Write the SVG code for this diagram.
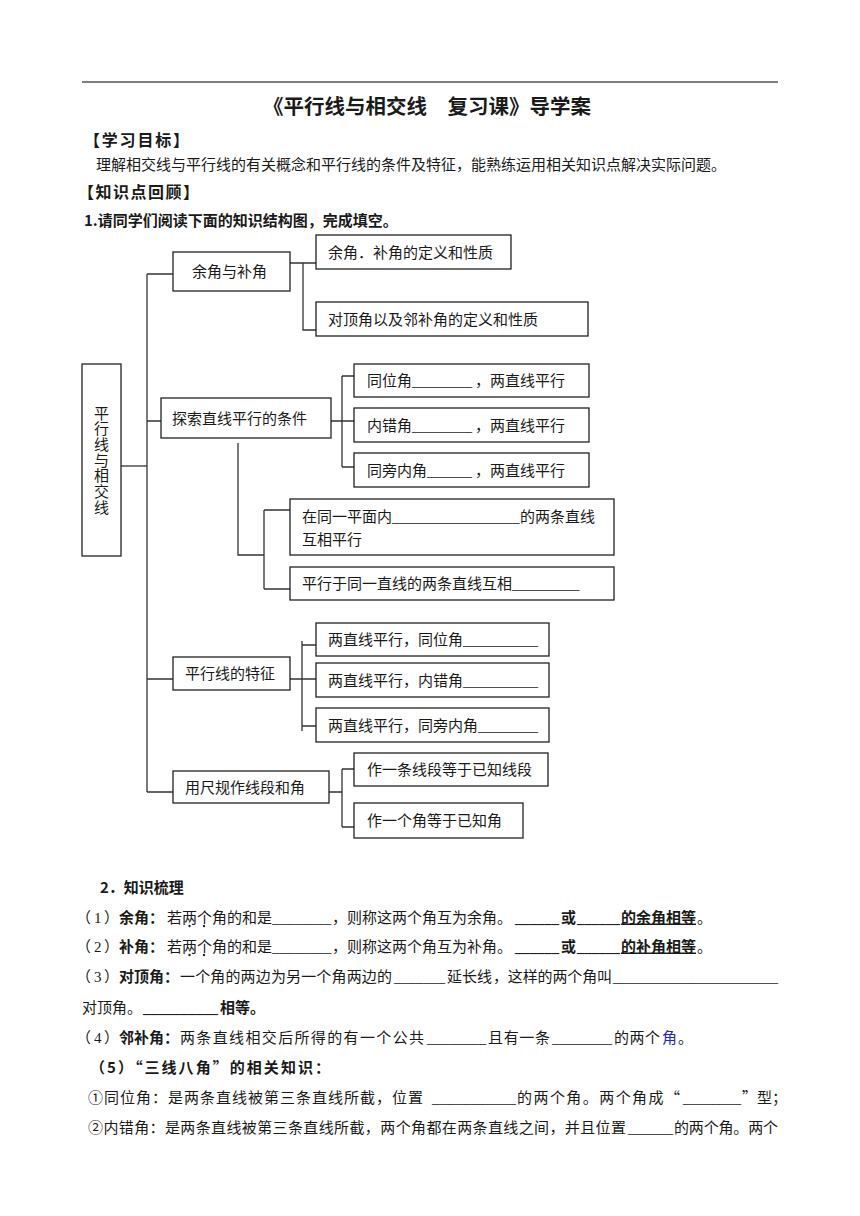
<svg xmlns="http://www.w3.org/2000/svg" width="860" height="1216" viewBox="0 0 860 1216">
<style>
text{font-family:"Noto Sans CJK SC","Liberation Serif",sans-serif;font-size:15px;fill:#1a1a1a}
.b{font-weight:bold}
.u{text-decoration:underline}
.ul{font-family:"Liberation Serif",serif}
.box{fill:#fff;stroke:#222;stroke-width:1.3}
.ln{fill:none;stroke:#333;stroke-width:1.3}
.blue{fill:#2424c8}
.vt{writing-mode:tb;glyph-orientation-vertical:0;letter-spacing:0.7px}
</style>
<rect width="860" height="1216" fill="#fff"/>
<line x1="82" y1="82" x2="778" y2="82" stroke="#000" stroke-width="1"/>
<text x="263" y="113.5" class="b" style="font-size:20.5px">《平行线与相交线　复习课》导学案</text>
<text x="84" y="145.7" class="b" style="font-size:16px" textLength="105" lengthAdjust="spacing">【学习目标】</text>
<text x="96" y="169.7" textLength="630" lengthAdjust="spacing">理解相交线与平行线的有关概念和平行线的条件及特征，能熟练运用相关知识点解决实际问题。</text>
<text x="78" y="197.7" class="b" style="font-size:16px" textLength="121" lengthAdjust="spacing">【知识点回顾】</text>
<text x="84" y="225.7" class="b">1.请同学们阅读下面的知识结构图，完成填空。</text>

<g id="connectors" class="ln">
<path d="M147 274V792"/>
<path d="M121 466H147"/>
<path d="M147 274H173M147 421H161M147 679H173M147 792H173"/>
<path d="M290 263H316M303 263V330H316"/>
<path d="M331 421H354M342 376V467M342 376H354M342 467H354"/>
<path d="M238 443V555H264M264 510V589M264 510H290M264 589H290"/>
<path d="M290 679H316M302 641V731M302 645H316M302 726H316"/>
<path d="M329 792H342M342 769V827M342 769H354M342 827H354"/>
</g>

<g id="root"><rect class="box" x="82" y="364" width="39" height="192"/>
<text class="vt" x="101.5" y="405.5">平行线与相交线</text></g>

<g id="n-yujiao"><rect class="box" x="173" y="252" width="117" height="39"/><text x="192" y="277">余角与补角</text></g>
<g id="n-yujiao-1"><rect class="box" x="316" y="235" width="195" height="34"/><text x="328" y="257.5">余角．补角的定义和性质</text></g>
<g id="n-yujiao-2"><rect class="box" x="316" y="302" width="272" height="34"/><text x="328" y="324.5">对顶角以及邻补角的定义和性质</text></g>

<g id="n-tiaojian"><rect class="box" x="161" y="398" width="170" height="40"/><text x="172" y="423.5">探索直线平行的条件</text></g>
<g id="n-tj-1"><rect class="box" x="354" y="364" width="235" height="33"/><text x="367" y="386">同位角<tspan class="ul">________</tspan><tspan x="475">，两直线平行</tspan></text></g>
<g id="n-tj-2"><rect class="box" x="354" y="408" width="235" height="34"/><text x="367" y="430.5">内错角<tspan class="ul">________</tspan><tspan x="475">，两直线平行</tspan></text></g>
<g id="n-tj-3"><rect class="box" x="354" y="453" width="235" height="34"/><text x="367" y="475.5">同旁内角<tspan class="ul">______</tspan><tspan x="475">，两直线平行</tspan></text></g>
<g id="n-tj-4"><rect class="box" x="290" y="499" width="324" height="56"/><text x="302" y="521.5">在同一平面内<tspan class="ul">_________________</tspan><tspan x="520">的两条直线</tspan></text><text x="302" y="544.5">互相平行</text></g>
<g id="n-tj-5"><rect class="box" x="290" y="567" width="324" height="33"/><text x="302" y="589">平行于同一直线的两条直线互相<tspan class="ul">_________</tspan></text></g>

<g id="n-tezheng"><rect class="box" x="173" y="657" width="117" height="33"/><text x="185" y="679">平行线的特征</text></g>
<g id="n-tz-1"><rect class="box" x="316" y="623" width="233" height="33"/><text x="328" y="645">两直线平行，同位角<tspan class="ul">__________</tspan></text></g>
<g id="n-tz-2"><rect class="box" x="316" y="663" width="233" height="34"/><text x="328" y="685.5">两直线平行，内错角<tspan class="ul">__________</tspan></text></g>
<g id="n-tz-3"><rect class="box" x="316" y="708" width="233" height="34"/><text x="328" y="730.5">两直线平行，同旁内角<tspan class="ul">________</tspan></text></g>

<g id="n-chigui"><rect class="box" x="173" y="771" width="156" height="32"/><text x="185" y="792.5">用尺规作线段和角</text></g>
<g id="n-cg-1"><rect class="box" x="354" y="753" width="194" height="33"/><text x="367" y="775">作一条线段等于已知线段</text></g>
<g id="n-cg-2"><rect class="box" x="354" y="803" width="169" height="35"/><text x="367" y="826">作一个角等于已知角</text></g>

<text x="100" y="892.5" class="b">2．知识梳理</text>

<text x="76" y="922.5">（<tspan x="94" class="ul">1</tspan><tspan x="104">）</tspan></text>
<text x="119" y="922.5" class="b">余角：</text>
<text x="167" y="922.5">若两个角的和是</text>
<text x="272" y="922.5" class="ul" textLength="59" lengthAdjust="spacingAndGlyphs">________</text>
<text x="332" y="922.5">，则称这两个角互为余角。</text>
<text x="515" y="922.5" class="b ul" textLength="44" lengthAdjust="spacingAndGlyphs">______</text>
<text x="561" y="922.5" class="b">或</text>
<text x="577" y="922.5" class="b ul" textLength="43" lengthAdjust="spacingAndGlyphs">______</text>
<text x="621" y="922.5" class="b u">的余角相等</text>
<text x="697" y="922.5">。</text>
<circle cx="189.5" cy="926" r="1.2" fill="#222"/><circle cx="204" cy="926" r="1.2" fill="#222"/>

<text x="76" y="951.5">（<tspan x="94" class="ul">2</tspan><tspan x="104">）</tspan></text>
<text x="119" y="951.5" class="b">补角：</text>
<text x="167" y="951.5">若两个角的和是</text>
<text x="272" y="951.5" class="ul" textLength="59" lengthAdjust="spacingAndGlyphs">________</text>
<text x="332" y="951.5">，则称这两个角互为补角。</text>
<text x="515" y="951.5" class="b ul" textLength="44" lengthAdjust="spacingAndGlyphs">______</text>
<text x="561" y="951.5" class="b">或</text>
<text x="577" y="951.5" class="b ul" textLength="43" lengthAdjust="spacingAndGlyphs">______</text>
<text x="621" y="951.5" class="b u">的补角相等</text>
<text x="697" y="951.5">。</text>
<circle cx="189.5" cy="955" r="1.2" fill="#222"/><circle cx="204" cy="955" r="1.2" fill="#222"/>

<text x="76" y="981.5">（<tspan x="94" class="ul">3</tspan><tspan x="104">）</tspan></text>
<text x="119" y="981.5" class="b">对顶角：</text>
<text x="180" y="981.5" textLength="212" lengthAdjust="spacing">一个角的两边为另一个角两边的</text>
<text x="394" y="981.5" class="ul" textLength="51" lengthAdjust="spacingAndGlyphs">_______</text>
<text x="447" y="981.5">延长线</text>
<text x="493" y="981.5" textLength="119" lengthAdjust="spacing">，这样的两个角叫</text>
<text x="613" y="981.5" class="ul" textLength="165" lengthAdjust="spacingAndGlyphs">______________________</text>

<text x="82" y="1013">对顶角。</text>
<text x="143" y="1013" class="b ul" textLength="75" lengthAdjust="spacingAndGlyphs">__________</text>
<text x="220" y="1013" class="b">相等。</text>

<text x="76" y="1042.5">（<tspan x="94" class="ul">4</tspan><tspan x="104">）</tspan></text>
<text x="119" y="1042.5" class="b">邻补角：</text>
<text x="180" y="1042.5" textLength="244" lengthAdjust="spacing">两条直线相交后所得的有一个公共</text>
<text x="427" y="1042.5" class="ul" textLength="59" lengthAdjust="spacingAndGlyphs">________</text>
<text x="488" y="1042.5" textLength="62" lengthAdjust="spacing">且有一条</text>
<text x="552" y="1042.5" class="ul" textLength="60" lengthAdjust="spacingAndGlyphs">________</text>
<text x="614" y="1042.5" textLength="46" lengthAdjust="spacing">的两个</text>
<text x="662" y="1042.5" class="blue">角</text>
<text x="678" y="1042.5">。</text>

<text x="90" y="1072.5" class="b" textLength="240" lengthAdjust="spacing">（5）“三线八角”的相关知识：</text>

<text x="88" y="1102.5" textLength="335" lengthAdjust="spacing">①同位角：是两条直线被第三条直线所截，位置</text>
<text x="432" y="1102.5" class="ul" textLength="84" lengthAdjust="spacingAndGlyphs">___________</text>
<text x="517" y="1102.5" textLength="163" lengthAdjust="spacing">的两个角。两个角成“</text>
<text x="683" y="1102.5" class="ul" textLength="58" lengthAdjust="spacingAndGlyphs">_______</text>
<text x="742" y="1102.5">”</text>
<text x="757" y="1102.5">型；</text>

<text x="88" y="1132.5" textLength="538" lengthAdjust="spacing">②内错角：是两条直线被第三条直线所截，两个角都在两条直线之间，并且位置</text>
<text x="628" y="1132.5" class="ul" textLength="45" lengthAdjust="spacingAndGlyphs">______</text>
<text x="674" y="1132.5" textLength="104" lengthAdjust="spacing">的两个角。两个</text>
</svg>
